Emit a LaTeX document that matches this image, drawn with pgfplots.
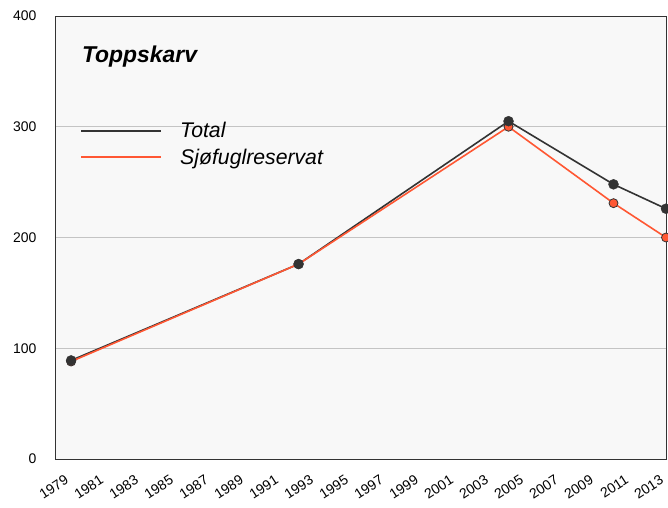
\documentclass[border=0pt]{standalone}
\usepackage{pgfplots}
\pgfplotsset{compat=1.18}
\usepackage{fontspec}
\setmainfont{Liberation Sans}
\definecolor{bg}{HTML}{F8F8F8}
\definecolor{gridc}{HTML}{C4C4C4}
\definecolor{tot}{HTML}{333333}
\definecolor{sjo}{HTML}{FF5733}
\begin{document}
\begin{tikzpicture}
\begin{axis}[
  at={(0,0)}, anchor=south west,
  scale only axis, width=611bp, height=443bp,
  xmin=1978.08, xmax=2013, ymin=0, ymax=400,
  xtick={1979,1981,...,2013},
  ytick={0,100,200,300,400},
  /pgf/number format/1000 sep={},
  /pgf/number format/assume math mode=true,
  major tick length=0pt,
  ymajorgrids, grid style={gridc, line width=0.8bp},
  axis background/.style={fill=bg},
  axis line style={tot, line width=0.8bp},
  tick label style={font=\fontsize{14}{16}\selectfont},
  xticklabel style={rotate=33, anchor=north east, inner sep=0bp, xshift=-14bp, yshift=-9bp},
  yticklabel style={xshift=-15bp},
  clip=false,
  legend style={at={(axis description cs:0.041,0.711)}, anchor=west, draw=none, fill=none,
    inner sep=0pt, row sep=6bp, font=\itshape\fontsize{21.3}{23}\selectfont,
    cells={anchor=west}},
]
\addplot[tot, line width=1.6bp, mark=none,
  legend image code/.code={\draw[tot, line width=2bp] (0bp,0bp) -- (80bp,0bp);}] coordinates {
  (1979,89) (1992,176) (2004,305) (2010,248) (2013,226)};
\addlegendentry{\hspace{16bp}Total}
\addplot[sjo, line width=1.6bp, mark=*, mark size=4.5bp,
  mark options={fill=sjo, draw=tot, line width=0.8bp},
  legend image code/.code={\draw[sjo, line width=2bp] (0bp,0bp) -- (80bp,0bp);}] coordinates {
  (1979,88) (1992,176) (2004,300) (2010,231) (2013,200)};
\addlegendentry{\hspace{16bp}Sjøfuglreservat}
\addplot[forget plot, only marks, mark=*, mark size=5bp, mark options={fill=tot, draw=tot}] coordinates {
  (1979,89) (1992,176) (2004,305) (2010,248) (2013,226)};
\node[anchor=base west, inner sep=0pt, font=\bfseries\itshape\fontsize{23}{25}\selectfont]
  at (axis description cs:0.044,0.896) {Toppskarv};
\end{axis}
\pgfresetboundingbox
\path[use as bounding box] (-55bp,-49bp) rectangle (613bp,459bp);
\end{tikzpicture}
\end{document}
